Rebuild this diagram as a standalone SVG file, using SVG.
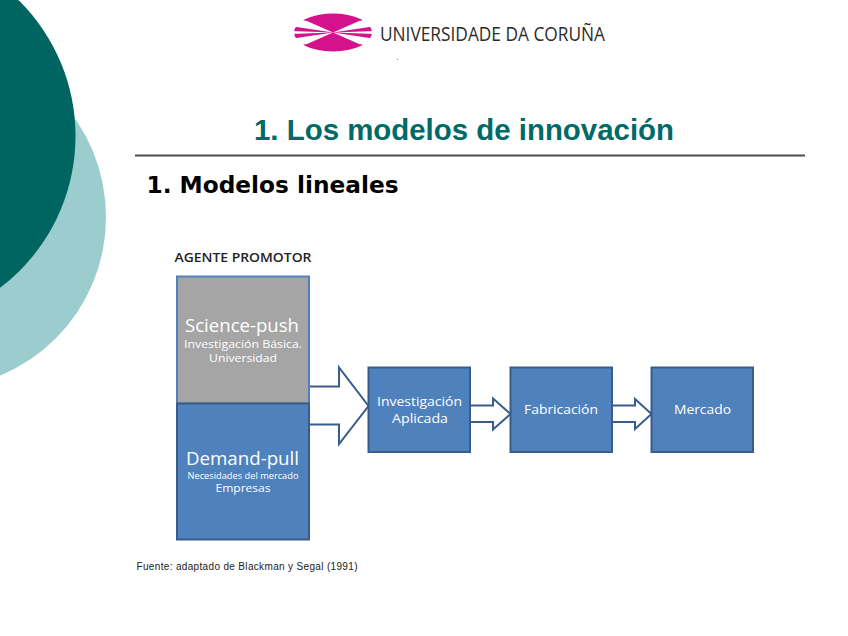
<svg xmlns="http://www.w3.org/2000/svg" width="848" height="636" viewBox="0 0 848 636">
<style>
.box{fill:#4f81bd;stroke:#385d8a;stroke-width:2}
.arrow{fill:#fff;stroke:#385d8a;stroke-width:2;stroke-linejoin:miter}
text{font-family:"Open Sans","Noto Sans",sans-serif;text-anchor:middle}
.w{fill:#fff}
</style>
<rect width="848" height="636" fill="#fff"/>
<g id="background">
<circle cx="-65.800" cy="217" r="171.800" fill="#9bcdce"/>
<circle cx="-115" cy="136" r="190.500" fill="#006561"/>
</g>
<g id="logo">
<ellipse cx="333" cy="32.500" rx="39" ry="19" fill="#d6118c"/>
<path d="M333 32.500 L307 21 L290 18 L290 26 Z M333 32.500 L359 21 L376 18 L376 26 Z M333 32.500 L307 44 L290 47 L290 39 Z M333 32.500 L359 44 L376 47 L376 39 Z M333 32.500 L290 31 V34 Z M333 32.500 L376 31 V34 Z" fill="#fff"/>
<text x="492.500" y="41" font-size="20.500" fill="#2b2b2b" textLength="225" lengthAdjust="spacingAndGlyphs">UNIVERSIDADE DA CORUÑA</text>
<text x="397.500" y="60" font-size="8" fill="#333">.</text>
</g>
<g id="title">
<text x="464" y="140" font-size="29.400" font-weight="700" fill="#006a68" style="font-family:'Liberation Sans',sans-serif" textLength="420" lengthAdjust="spacingAndGlyphs">1. Los modelos de innovación</text>
<rect x="135" y="154.500" width="670" height="2" fill="#4d4d4d"/>
<text x="272.500" y="193" font-size="23" font-weight="700" fill="#000" style="font-family:'DejaVu Sans',sans-serif" textLength="252" lengthAdjust="spacingAndGlyphs">1. Modelos lineales</text>
</g>
<text id="agente" x="243" y="262" font-size="12" font-weight="600" fill="#222" textLength="137" lengthAdjust="spacingAndGlyphs">AGENTE PROMOTOR</text>
<g id="connectors">
<path class="arrow" d="M309 386.500 H339 V367.500 L368.500 406 L339 444 V424.500 H309"/>
<path class="arrow" d="M470 405.500 H493 V398.500 L510.500 414 L493 429.500 V422 H470"/>
<path class="arrow" d="M612 405.500 H635 V399 L651.500 414 L635 429 V422 H612"/>
</g>
<g id="science-push">
<rect x="177" y="276.500" width="132" height="127" fill="#a5a5a5" stroke="#4f81bd" stroke-width="2"/>
<text class="w" x="242" y="332" font-size="17.500" textLength="114" lengthAdjust="spacingAndGlyphs">Science-push</text>
<text class="w" x="243" y="348" font-size="11" textLength="118" lengthAdjust="spacingAndGlyphs">Investigación Básica.</text>
<text class="w" x="243" y="362" font-size="10" textLength="68" lengthAdjust="spacingAndGlyphs">Universidad</text>
</g>
<g id="demand-pull">
<rect class="box" x="177" y="403.500" width="132" height="136"/>
<text class="w" x="242.500" y="465" font-size="17.500" textLength="113" lengthAdjust="spacingAndGlyphs">Demand-pull</text>
<text class="w" x="243" y="478.500" font-size="8.500" textLength="111" lengthAdjust="spacingAndGlyphs">Necesidades del mercado</text>
<text class="w" x="243" y="492" font-size="10.500" textLength="55" lengthAdjust="spacingAndGlyphs">Empresas</text>
</g>
<g id="investigacion">
<rect class="box" x="368.500" y="367.500" width="101.500" height="84.500"/>
<text class="w" x="419.500" y="406" font-size="12.500" textLength="85" lengthAdjust="spacingAndGlyphs">Investigación</text>
<text class="w" x="420" y="423" font-size="12.500" textLength="56" lengthAdjust="spacingAndGlyphs">Aplicada</text>
</g>
<g id="fabricacion">
<rect class="box" x="510.500" y="367.500" width="101.500" height="84.500"/>
<text class="w" x="561" y="414" font-size="12.500" textLength="74" lengthAdjust="spacingAndGlyphs">Fabricación</text>
</g>
<g id="mercado">
<rect class="box" x="651.500" y="367.500" width="101.500" height="84.500"/>
<text class="w" x="702.500" y="414" font-size="12.500" textLength="57" lengthAdjust="spacingAndGlyphs">Mercado</text>
</g>
<text id="fuente" x="247" y="570" font-size="10" fill="#222" style="font-family:'Liberation Sans',sans-serif" textLength="221" lengthAdjust="spacing">Fuente: adaptado de Blackman y Segal (1991)</text>
</svg>
